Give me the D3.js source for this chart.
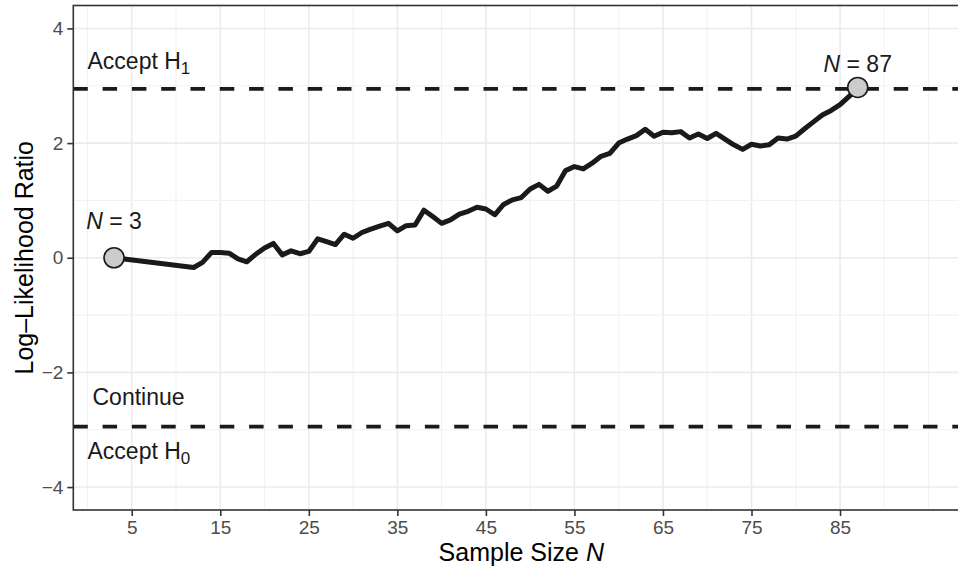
<!DOCTYPE html>
<html>
<head>
<meta charset="utf-8">
<script src="https://cdn.jsdelivr.net/npm/d3@7"></script>
<style>
    body { margin: 0; background: #fff; }
    text { font-family: "Liberation Sans", Arial, sans-serif; }
    .tick-label { fill: #4d4d4d; font-size: 19px; }
    .axis-title { fill: #000; font-size: 25px; }
    .region-label { fill: #1a1a1a; font-size: 23px; }
</style>
</head>
<body>
<div id="chart"></div>
<script>

// sample sizes and log-likelihood ratio
var sampleSize = [3, 12, 13, 14, 15, 16, 17, 18, 19, 20, 21, 22, 23, 24, 25, 26, 27, 28, 29, 30,
    31, 32, 33, 34, 35, 36, 37, 38, 39, 40, 41, 42, 43, 44, 45, 46, 47, 48, 49, 50,
    51, 52, 53, 54, 55, 56, 57, 58, 59, 60, 61, 62, 63, 64, 65, 66, 67, 68, 69, 70,
    71, 72, 73, 74, 75, 76, 77, 78, 79, 80, 81, 82, 83, 84, 85, 86, 87];
var llr = [0, -0.17, -0.08, 0.09, 0.09, 0.08, -0.02, -0.07, 0.06, 0.17, 0.25, 0.05, 0.12, 0.07, 0.11, 0.33, 0.28, 0.23, 0.41, 0.34,
    0.44, 0.50, 0.55, 0.60, 0.47, 0.56, 0.57, 0.83, 0.72, 0.60, 0.66, 0.76, 0.81, 0.88, 0.85, 0.75, 0.93, 1.01, 1.05, 1.20,
    1.28, 1.16, 1.25, 1.52, 1.59, 1.55, 1.65, 1.77, 1.82, 2.00, 2.07, 2.13, 2.24, 2.12, 2.19, 2.18, 2.20, 2.09, 2.16, 2.08,
    2.17, 2.07, 1.97, 1.89, 1.98, 1.95, 1.97, 2.09, 2.07, 2.12, 2.25, 2.37, 2.49, 2.57, 2.67, 2.81, 2.97];

// decision boundaries: log(19)
var upperBound = 2.944;
var lowerBound = -2.944;

var xTicks = [5, 15, 25, 35, 45, 55, 65, 75, 85];
var xGrid = [0, 5, 10, 15, 20, 25, 30, 35, 40, 45, 50, 55, 60, 65, 70, 75, 80, 85, 90, 95];
var yTicks = [-4, -2, 0, 2, 4];
var yGrid = [-4, -3, -2, -1, 0, 1, 2, 3, 4];

var majorX = xTicks;
var majorY = yTicks;

var margin = { top: 5.5, left: 73.3 };
var panelWidth = 896;
var panelHeight = 504.5;

var svg = d3.select("#chart").append("svg")
    .attr("width", 958)
    .attr("height", 569);

var x = d3.scaleLinear()
    .domain([-1.6, 99.6])
    .range([margin.left, margin.left + panelWidth]);

var y = d3.scaleLinear()
    .domain([-4.4, 4.4])
    .range([margin.top + panelHeight, margin.top]);

// grid
var grid = svg.append("g").attr("class", "grid");

grid.selectAll(".vgrid")
    .data(xGrid)
    .enter().append("line")
    .attr("x1", function(d) { return x(d); })
    .attr("x2", function(d) { return x(d); })
    .attr("y1", y(4.4))
    .attr("y2", y(-4.4))
    .attr("stroke", function(d) { return majorX.indexOf(d) >= 0 ? "#ebebeb" : "#f2f2f2"; })
    .attr("stroke-width", function(d) { return majorX.indexOf(d) >= 0 ? 1.6 : 1.1; });

grid.selectAll(".hgrid")
    .data(yGrid)
    .enter().append("line")
    .attr("x1", x(-1.6))
    .attr("x2", x(99.6))
    .attr("y1", function(d) { return y(d); })
    .attr("y2", function(d) { return y(d); })
    .attr("stroke", function(d) { return majorY.indexOf(d) >= 0 ? "#ebebeb" : "#f2f2f2"; })
    .attr("stroke-width", function(d) { return majorY.indexOf(d) >= 0 ? 1.6 : 1.1; });

// boundaries
svg.selectAll(".bound")
    .data([upperBound, lowerBound])
    .enter().append("line")
    .attr("class", "bound")
    .attr("x1", x(-1.6))
    .attr("x2", x(99.6))
    .attr("y1", function(d) { return y(d); })
    .attr("y2", function(d) { return y(d); })
    .attr("stroke", "#1a1a1a")
    .attr("stroke-width", 3.8)
    .attr("stroke-dasharray", "14.5 14.8");

// the walk
var points = sampleSize.map(function(n, i) { return { n: n, v: llr[i] }; });

var line = d3.line()
    .x(function(d) { return x(d.n); })
    .y(function(d) { return y(d.v); });

svg.append("path")
    .datum(points)
    .attr("d", line)
    .attr("fill", "none")
    .attr("stroke", "#1a1a1a")
    .attr("stroke-width", 5)
    .attr("stroke-linejoin", "round")
    .attr("stroke-linecap", "round");

var ends = [points[0], points[points.length - 1]];

svg.selectAll(".endpoint")
    .data(ends)
    .enter().append("circle")
    .attr("class", "endpoint")
    .attr("cx", function(d) { return x(d.n); })
    .attr("cy", function(d) { return y(d.v); })
    .attr("r", 10)
    .attr("fill", "#cbcccd")
    .attr("stroke", "#1a1a1a")
    .attr("stroke-width", 1.6);

// "N = 3" / "N = 87" labels
var endLabels = svg.selectAll(".end-label")
    .data(ends)
    .enter().append("text")
    .attr("class", "region-label end-label")
    .attr("text-anchor", "middle")
    .attr("x", function(d) { return x(d.n); })
    .attr("y", function(d, i) { return y(d.v) - (i === 0 ? 29 : 15); });
endLabels.append("tspan").attr("font-style", "italic").text("N");
endLabels.append("tspan").text(function(d) { return " = " + d.n; });

// region labels
function regionLabel(px, py, main, sub) {
    var t = svg.append("text")
        .attr("class", "region-label")
        .attr("x", px)
        .attr("y", py);
    t.append("tspan").text(main);
    if (sub) {
        t.append("tspan").attr("dy", 5).attr("font-size", "17px").text(sub);
    }
}
regionLabel(87.5, 69, "Accept H", "1");
regionLabel(92.5, 405, "Continue");
regionLabel(87.5, 459, "Accept H", "0");

// panel border
svg.append("rect")
    .attr("x", x(-1.6))
    .attr("y", y(4.4))
    .attr("width", panelWidth + 20)
    .attr("height", panelHeight)
    .attr("fill", "none")
    .attr("stroke", "#333")
    .attr("stroke-width", 1.6);

// axes
var xAxis = d3.axisBottom(x).tickValues(xTicks).tickSize(6).tickPadding(5);
var gx = svg.append("g")
    .attr("transform", "translate(0," + y(-4.4) + ")")
    .call(xAxis);

var yAxis = d3.axisLeft(y).tickValues(yTicks).tickSize(6).tickPadding(4)
    .tickFormat(function(d) { return d < 0 ? "\u2212" + Math.abs(d) : d; });
var gy = svg.append("g")
    .attr("transform", "translate(" + x(-1.6) + ",0)")
    .call(yAxis);

[gx, gy].forEach(function(g) {
    g.select(".domain").remove();
    g.selectAll(".tick line").attr("stroke", "#333").attr("stroke-width", 1.6);
    g.selectAll(".tick text")
        .attr("class", "tick-label")
        .attr("fill", null)
        .style("font-family", "'Liberation Sans', Arial, sans-serif")
        .style("font-size", "19px");
});

// axis titles
var xTitle = svg.append("text")
    .attr("class", "axis-title")
    .attr("text-anchor", "middle")
    .attr("x", (x(-1.6) + x(99.6)) / 2)
    .attr("y", 561);
xTitle.append("tspan").text("Sample Size ");
xTitle.append("tspan").attr("font-style", "italic").text("N");

svg.append("text")
    .attr("class", "axis-title")
    .attr("text-anchor", "middle")
    .attr("transform", "translate(33," + y(0) + ") rotate(-90)")
    .text("Log\u2013Likelihood Ratio");

</script>
</body>
</html>
